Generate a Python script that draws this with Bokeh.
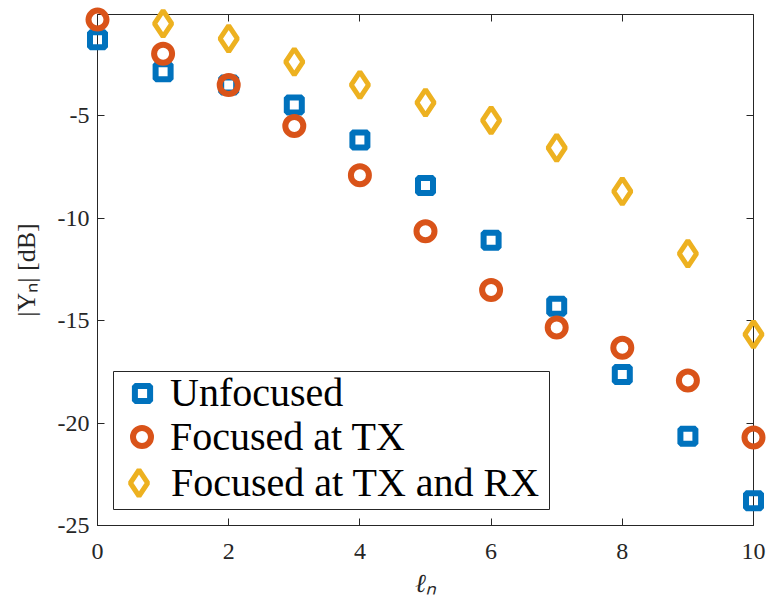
import math
from bokeh.plotting import figure
from bokeh.models import (LinearAxis, Range1d, Legend, LegendItem, FixedTicker,
                          ColumnDataSource, BoxAnnotation)
from bokeh.embed import file_html
from bokeh.resources import INLINE

nan = float("nan")
ell = [0, 1, 2, 3, 4, 5, 6, 7, 8, 9, 10]
unfocused = [-1.29, -2.86, -3.50, -4.48, -6.19, -8.40, -11.08, -14.30, -17.63, -20.65, -23.79]
focused_tx = [-0.31, -1.98, -3.50, -5.50, -7.91, -10.64, -13.51, -15.34, -16.32, -17.92, -20.70]
focused_txrx = [nan, -0.50, -1.24, -2.37, -3.50, -4.36, -5.23, -6.57, -8.69, -11.73, -15.67]
series_names = ["Unfocused", "Focused at TX", "Focused at TX and RX"]
x_ticks = [0, 2, 4, 6, 8, 10]
y_ticks = [-25, -20, -15, -10, -5]

FONT = "Liberation Serif"
AX = "#262626"

p = figure(frame_width=656, frame_height=511,
           min_border_left=97, min_border_right=16, min_border_top=14, min_border_bottom=74,
           x_range=Range1d(0, 10), y_range=Range1d(-25, -0.06),
           output_backend="svg", toolbar_location=None,
           background_fill_color="white", border_fill_color="white")
p.grid.visible = False
p.outline_line_color = AX
p.outline_line_width = 1

src = ColumnDataSource(dict(x=ell, u=unfocused, t=focused_tx, tr=focused_txrx))
r1 = p.scatter("x", "u", source=src, marker="square", size=15, fill_color=None,
               line_color="#0072BD", line_width=6, level="overlay")
r2 = p.scatter("x", "t", source=src, marker="circle", size=18, fill_color=None,
               line_color="#D95319", line_width=6, level="overlay")
r3 = p.scatter("x", "tr", source=src, marker="diamond", size=26, fill_color=None,
               line_color="#EDB120", line_width=5, level="overlay")

for ax in (p.xaxis[0], p.yaxis[0]):
    ax.axis_line_color = AX
    ax.major_tick_line_color = AX
    ax.major_tick_in = 7
    ax.major_tick_out = 0
    ax.minor_tick_line_color = None
    ax.major_label_text_font = FONT
    ax.major_label_text_font_size = "24px"
    ax.major_label_text_color = AX
    ax.axis_label_text_font = FONT
    ax.axis_label_text_font_size = "26px"
    ax.axis_label_text_color = AX
    ax.axis_label_text_font_style = "normal"

p.xaxis[0].ticker = FixedTicker(ticks=x_ticks)
p.yaxis[0].ticker = FixedTicker(ticks=y_ticks)
p.xaxis[0].major_label_overrides = {t: str(t) for t in x_ticks}
p.yaxis[0].major_label_overrides = {t: str(t) for t in y_ticks}
p.xaxis[0].major_label_standoff = 18
p.yaxis[0].major_label_standoff = 8
p.xaxis[0].axis_label = "ℓₙ"
p.xaxis[0].axis_label_text_font_style = "italic"
p.xaxis[0].axis_label_standoff = 7
p.yaxis[0].axis_label = "|Yₙ| [dB]"
p.yaxis[0].axis_label_standoff = 14

top = LinearAxis(ticker=FixedTicker(ticks=x_ticks))
right = LinearAxis(ticker=FixedTicker(ticks=y_ticks))
for ax in (top, right):
    ax.axis_line_color = None
    ax.major_tick_line_color = AX
    ax.major_tick_in = 7
    ax.major_tick_out = 0
    ax.minor_tick_line_color = None
    ax.major_label_text_font_size = "1px"
    ax.major_label_text_color = None
    ax.major_label_standoff = 0
p.add_layout(top, "above")
p.add_layout(right, "right")

# legend frame (screen units, measured from the plot frame's bottom-left)
box = BoxAnnotation(left=16, right=452, bottom=16, top=154,
                    left_units="screen", right_units="screen",
                    bottom_units="screen", top_units="screen",
                    fill_color="white", fill_alpha=1,
                    line_color=AX, line_width=1, line_alpha=1)
p.add_layout(box)

# one single-row legend per series, so each marker keeps its own size
rows = [
    (series_names[0], r1, 38, 26, 9, 109),
    (series_names[1], r2, 45, 22, 6, 65),
    (series_names[2], r3, 65, 9, 0, 10),
]
for name, rend, gsize, lx, standoff, ly in rows:
    lg = Legend(items=[LegendItem(label=name, renderers=[rend])], location=(lx, ly))
    lg.label_text_font = FONT
    lg.label_text_font_size = "40px"
    lg.label_text_color = "black"
    lg.border_line_color = None
    lg.background_fill_color = None
    lg.background_fill_alpha = 0
    lg.padding = 0
    lg.margin = 0
    lg.spacing = 0
    lg.glyph_width = gsize
    lg.glyph_height = gsize
    lg.label_height = gsize
    lg.label_standoff = standoff
    p.add_layout(lg, "center")

open("out.html", "w").write(file_html(p, INLINE))
